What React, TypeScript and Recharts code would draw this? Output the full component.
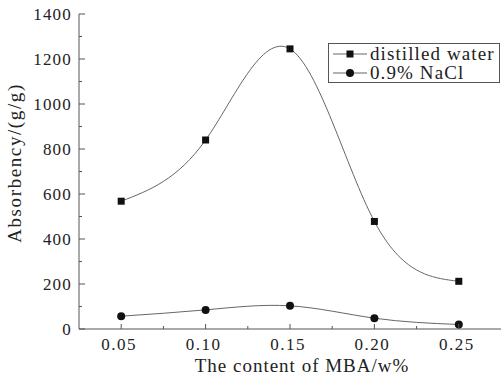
import * as React from "react";
import { LineChart, Line, XAxis, YAxis } from "recharts";

const mbaContent = [0.05, 0.1, 0.15, 0.2, 0.25];
const distilledWater = [568, 840, 1245, 478, 212];
const salineNaCl = [57, 85, 103, 48, 20];
const xTicks = [0.05, 0.075, 0.1, 0.125, 0.15, 0.175, 0.2, 0.225, 0.25];
const yTicks = [0, 100, 200, 300, 400, 500, 600, 700, 800, 900, 1000, 1100, 1200, 1300, 1400];

const data = mbaContent.map((x, i) => ({
  x,
  water: distilledWater[i],
  nacl: salineNaCl[i],
}));

const FONT = "'Liberation Serif', serif";
const AXIS = "#555";
const TEXT = "#222";
const LINE = "#666";

function isMajorX(v: number) {
  return Math.round(v * 1000) % 50 === 0;
}

function XTick(props: any) {
  const { x, y, payload } = props;
  const major = isMajorX(payload.value);
  return (
    <g>
      <line x1={x} x2={x} y1={y} y2={y - (major ? 5 : 3)} stroke={AXIS} />
      {major && (
        <text x={x - 2} y={y + 21} textAnchor="middle" fill={TEXT} fontSize={17} fontFamily={FONT} letterSpacing={1.5}>
          {payload.value.toFixed(2)}
        </text>
      )}
    </g>
  );
}

function YTick(props: any) {
  const { x, y, payload } = props;
  const major = payload.value % 200 === 0;
  return (
    <g>
      <line x1={x} x2={x + (major ? 6 : 3)} y1={y} y2={y} stroke={AXIS} />
      {major && (
        <text x={x - 7} y={y + 6} textAnchor="end" fill={TEXT} fontSize={17} fontFamily={FONT} letterSpacing={1.2}>
          {payload.value}
        </text>
      )}
    </g>
  );
}

function Square(props: any) {
  const { cx, cy } = props;
  return <rect x={cx - 3.5} y={cy - 3.5} width={7} height={7} fill="#111" />;
}

function Dot(props: any) {
  const { cx, cy } = props;
  return <circle cx={cx} cy={cy} r={4} fill="#111" />;
}

function LegendBox() {
  const rows = [
    { label: "distilled water", square: true },
    { label: "0.9% NaCl", square: false },
  ];
  return (
    <div
      style={{
        position: "absolute",
        left: 328,
        top: 43,
        width: 172,
        height: 40,
        border: `1px solid ${AXIS}`,
        background: "#fff",
        fontFamily: FONT,
        fontSize: 19,
        letterSpacing: 1.1,
        color: TEXT,
        lineHeight: "19px",
        boxSizing: "border-box",
        whiteSpace: "nowrap",
        paddingTop: 0,
      }}
    >
      {rows.map((r) => (
        <div key={r.label} style={{ display: "flex", alignItems: "center", height: 19 }}>
          <svg width={34} height={19} style={{ marginLeft: 4, marginRight: 3, flex: "none" }}>
            <line x1={0} x2={34} y1={10} y2={10} stroke={LINE} />
            {r.square ? <rect x={13.5} y={6.5} width={7} height={7} fill="#111" /> : <circle cx={17} cy={10} r={4} fill="#111" />}
          </svg>
          <span>{r.label}</span>
        </div>
      ))}
    </div>
  );
}

export default function App() {
  return (
    <div style={{ position: "relative", width: 503, height: 381, background: "#fff" }}>
      <style>{`body{margin:0}`}</style>
      <LineChart width={503} height={381} data={data} margin={{ top: 14, right: 2, left: 0, bottom: 0 }}>
        <XAxis
          dataKey="x"
          type="number"
          domain={[0.025, 0.275]}
          ticks={xTicks}
          interval={0}
          tick={<XTick />}
          tickSize={0}
          tickMargin={0}
          height={52}
          axisLine={{ stroke: AXIS }}
          tickLine={false}
          label={{
            content: () => (
              <text x={302} y={372} textAnchor="middle" fill={TEXT} fontSize={19} fontFamily={FONT} letterSpacing={1}>
                The content of MBA/w%
              </text>
            ),
          }}
        />
        <YAxis
          type="number"
          domain={[0, 1400]}
          ticks={yTicks}
          interval={0}
          tick={<YTick />}
          tickSize={0}
          tickMargin={0}
          width={79}
          axisLine={{ stroke: AXIS }}
          tickLine={false}
          label={{
            content: () => (
              <text
                transform="translate(21,163) rotate(-90)"
                textAnchor="middle"
                fill={TEXT}
                fontSize={19}
                fontFamily={FONT}
                letterSpacing={1.6}
              >
                Absorbency/(g/g)
              </text>
            ),
          }}
        />
        <Line type="natural" dataKey="water" stroke={LINE} strokeWidth={1} dot={<Square />} activeDot={false} isAnimationActive={false} />
        <Line type="natural" dataKey="nacl" stroke={LINE} strokeWidth={1} dot={<Dot />} activeDot={false} isAnimationActive={false} />
      </LineChart>
      <LegendBox />
    </div>
  );
}
